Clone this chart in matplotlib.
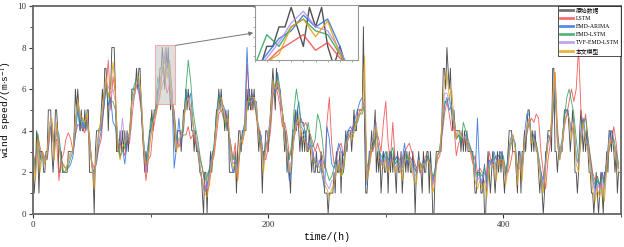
import numpy as np
import matplotlib
matplotlib.use('Agg')
import matplotlib.pyplot as plt
from matplotlib.patches import Rectangle
from matplotlib.ticker import MultipleLocator

plt.rcParams['font.family'] = ['Liberation Serif', 'Noto Sans CJK SC']
plt.rcParams['mathtext.fontset'] = 'stix'

# original hourly wind speed (m/s), t = 0..499
original = [
    2, 1, 2, 4, 3, 1, 3, 3, 3, 2,  2, 3, 3, 5, 5, 5, 3, 2, 3, 5,
    5, 4, 2, 2, 3, 2, 2, 2, 2, 2,  3, 3, 3, 3, 3, 4, 6, 5, 6, 5,
    4, 5, 4, 4, 5, 4, 5, 5, 2, 2,  2, 2, 0, 3, 4, 4, 4, 4, 5, 6,
    5, 7, 7, 6, 4, 6, 6, 8, 8, 8,  6, 3, 3, 3, 4, 3, 4, 3, 4, 3,
    4, 3, 4, 4, 6, 6, 6, 6, 7, 6,  7, 7, 5, 4, 3, 2, 3, 2, 3, 4,
    4, 5, 4, 5, 5, 5, 6, 6, 7, 7,  8, 7, 6, 8, 7, 8, 6, 5, 6, 5,
    4, 3, 3, 4, 4, 4, 3, 4, 5, 5,  6, 5, 6, 5, 5, 4, 4, 3, 4, 3,
    3, 3, 2, 2, 1, 0, 2, 2, 0, 2,  2, 3, 2, 3, 3, 4, 5, 5, 6, 5,
    6, 5, 5, 4, 5, 4, 5, 2, 2, 2,  2, 2, 3, 1, 3, 4, 4, 3, 4, 4,
    4, 4, 6, 5, 6, 5, 6, 5, 6, 5,  5, 4, 3, 4, 3, 1, 3, 3, 4, 4,
    3, 4, 5, 6, 7, 6, 5, 7, 6, 6,  6, 5, 5, 4, 3, 4, 2, 3, 2, 1,
    3, 4, 4, 5, 4, 5, 4, 3, 4, 3,  4, 3, 4, 3, 3, 4, 3, 2, 3, 2,
    2, 3, 2, 2, 2, 3, 2, 2, 1, 1,  1, 0, 1, 1, 1, 1, 2, 1, 3, 2,
    2, 3, 1, 3, 2, 3, 4, 3, 4, 4,  4, 3, 4, 5, 4, 4, 5, 5, 5, 5,
    5, 9, 4, 1, 1, 2, 3, 3, 4, 3,  4, 5, 2, 3, 2, 3, 1, 2, 3, 2,
    2, 3, 1, 3, 2, 3, 2, 3, 2, 1,  3, 2, 2, 3, 1, 2, 3, 2, 3, 2,
    3, 2, 2, 3, 2, 0, 2, 2, 3, 2,  2, 1, 3, 2, 2, 3, 3, 1, 3, 2,
    0, 0, 2, 3, 3, 3, 3, 3, 5, 7,  7, 6, 8, 7, 6, 7, 5, 4, 5, 4,
    4, 4, 4, 4, 3, 4, 3, 4, 3, 4,  3, 3, 3, 3, 3, 2, 1, 1, 2, 2,
    2, 1, 1, 2, 0, 0, 2, 3, 2, 1,  2, 3, 2, 1, 2, 3, 2, 3, 2, 3,
    2, 1, 2, 2, 3, 4, 4, 4, 3, 3,  3, 2, 1, 3, 3, 1, 3, 3, 4, 3,
    4, 5, 5, 4, 3, 4, 3, 4, 3, 3,  2, 1, 2, 1, 0, 1, 3, 3, 4, 4,
    4, 3, 7, 7, 3, 3, 2, 3, 3, 3,  3, 4, 5, 5, 5, 5, 4, 3, 4, 5,
    4, 2, 2, 1, 2, 4, 5, 4, 3, 4,  3, 4, 3, 2, 2, 1, 1, 0, 1, 2,
    1, 0, 1, 2, 1, 0, 2, 2, 3, 2,  4, 4, 3, 4, 3, 2, 3, 1, 2, 2,
]

# model predictions read every 2 h, t = 0, 2, ..., 498
lstm = [
    2.9, 2.4, 3.8, 3.2, 2.7,  2.8, 2.6, 3.6, 4.4, 3.4,  3.6, 1.6, 2.6, 2.9, 3.6,
    3.9, 3.6, 3.0, 3.8, 4.3,  4.2, 4.1, 3.9, 4.6, 3.2,  2.5, 2.2, 2.5, 3.2, 3.6,
    5.0, 6.0, 7.4, 5.0, 6.6,  5.8, 3.0, 3.4, 3.2, 2.8,  3.4, 3.4, 4.6, 5.6, 6.2,
    5.8, 5.0, 3.2, 1.6, 2.6,  2.8, 4.0, 4.6, 5.2, 5.8,  6.2, 6.6, 5.8, 6.2, 5.4,
    5.0, 3.6, 3.2, 3.6, 3.8,  3.8, 4.2, 3.6, 3.8, 3.4,  3.2, 2.6, 2.2, 1.4, 1.0,
    1.4, 2.4, 2.8, 3.8, 4.8,  5.0, 4.6, 4.8, 4.0, 3.4,  2.6, 3.4, 1.6, 3.0, 3.4,
    4.0, 7.2, 5.6, 5.0, 5.6,  4.6, 4.2, 3.6, 2.8, 2.6,  3.2, 4.0, 5.6, 6.2, 5.8,
    5.2, 4.2, 4.4, 3.8, 2.8,  3.0, 3.6, 4.4, 4.2, 4.6,  4.2, 4.4, 4.0, 3.8, 3.4,
    3.0, 3.4, 3.0, 2.8, 2.2,  4.4, 5.6, 3.4, 2.4, 2.6,  3.2, 3.4, 2.8, 3.0, 3.6,
    3.8, 4.2, 4.4, 4.6, 5.0,  5.0, 5.2, 2.0, 2.2, 3.0,  3.2, 4.0, 3.6, 3.0, 4.4,
    5.4, 3.4, 2.6, 4.4, 2.6,  2.8, 2.6, 2.4, 3.0, 3.2,  3.4, 3.0, 2.6, 2.2, 2.4,
    2.0, 2.4, 2.8, 2.6, 2.4,  1.4, 2.0, 2.6, 2.8, 3.8,  4.8, 5.4, 4.8, 4.0, 4.2,
    2.8, 3.4, 3.6, 3.4, 3.6,  3.4, 3.0, 2.4, 2.8, 2.0,  2.2, 2.0, 2.0, 1.8, 3.0,
    2.4, 2.6, 2.8, 2.4, 2.6,  2.6, 2.2, 2.0, 2.4, 3.0,  3.0, 2.2, 2.2, 2.4, 3.4,
    3.8, 4.4, 4.6, 4.4, 4.8,  4.6, 3.0, 2.0, 1.2, 2.6,  3.4, 4.6, 6.8, 4.2, 2.8,
    3.2, 4.2, 4.8, 5.4, 6.0,  5.4, 6.0, 8.0, 5.0, 4.2,  4.8, 3.6, 2.8, 2.0, 1.6,
    1.8, 1.2, 2.0, 1.6, 2.4,  3.0, 3.6, 4.2, 3.4, 2.2,
]
emd_arima = [
    2.6, 2.2, 3.6, 2.7, 3.0,  2.6, 2.7, 4.2, 4.0, 3.1,  4.1, 3.8, 2.6, 2.3, 2.2,
    2.2, 2.4, 2.8, 3.8, 5.0,  4.0, 4.4, 4.1, 4.5, 3.6,  2.3, 2.0, 2.5, 3.4, 4.0,
    5.0, 6.2, 5.2, 5.6, 4.4,  4.2, 3.4, 2.7, 3.2, 2.4,  3.4, 3.8, 5.4, 5.8, 6.6,
    6.0, 5.2, 3.2, 2.6, 3.4,  4.0, 4.6, 4.8, 5.6, 6.4,  6.8, 7.6, 7.0, 7.4, 6.0,
    2.2, 3.2, 4.6, 3.4, 4.2,  6.0, 5.4, 5.8, 4.4, 3.6,  3.0, 2.0, 1.6, 1.0, 1.4,
    1.8, 2.8, 3.2, 4.8, 5.8,  5.4, 5.2, 4.8, 4.2, 2.6,  2.0, 2.4, 2.2, 3.2, 3.8,
    4.4, 8.0, 5.2, 5.8, 5.4,  5.4, 3.6, 3.8, 2.4, 3.4,  3.4, 4.4, 6.4, 5.8, 6.8,
    6.0, 5.0, 3.8, 2.6, 1.6,  2.2, 4.0, 4.8, 5.4, 4.4,  4.4, 3.6, 3.0, 3.4, 3.0,
    2.4, 2.2, 2.6, 1.8, 1.2,  4.2, 3.6, 2.4, 2.2, 2.8,  3.4, 3.0, 2.8, 3.6, 4.0,
    4.2, 4.0, 4.6, 5.0, 5.4,  5.6, 5.0, 1.4, 2.6, 3.6,  3.4, 3.8, 3.2, 2.4, 3.0,
    2.6, 2.2, 3.0, 2.4, 2.6,  2.8, 2.2, 2.6, 3.4, 2.4,  2.8, 2.6, 2.4, 2.0, 2.8,
    2.2, 2.6, 2.4, 2.8, 2.2,  1.6, 2.2, 2.8, 3.0, 4.0,  5.2, 5.6, 5.0, 5.2, 4.6,
    3.6, 3.8, 3.4, 3.6, 3.8,  3.4, 3.2, 2.8, 1.8, 4.6,  1.8, 1.4, 2.4, 1.2, 2.6,
    2.4, 3.0, 2.6, 2.8, 3.0,  2.6, 1.8, 2.8, 3.6, 3.8,  3.4, 2.0, 3.0, 2.0, 3.8,
    4.8, 4.8, 3.6, 3.8, 3.4,  2.6, 2.0, 1.6, 2.6, 3.8,  3.6, 5.0, 6.0, 3.4, 2.6,
    3.4, 4.8, 5.0, 4.6, 4.0,  4.2, 2.8, 2.4, 4.0, 4.6,  3.8, 3.4, 2.6, 1.6, 1.2,
    1.6, 1.4, 2.0, 1.4, 2.6,  3.8, 4.0, 3.2, 2.8, 2.2,
]
emd_lstm = [
    3.1, 2.0, 3.9, 2.6, 2.8,  2.4, 2.8, 4.0, 4.3, 3.0,  4.0, 3.6, 2.6, 2.0, 2.1,
    2.3, 2.7, 3.0, 4.2, 5.2,  4.4, 4.6, 4.2, 4.4, 3.8,  2.4, 1.8, 2.6, 4.1, 4.2,
    5.2, 6.0, 5.8, 5.4, 5.4,  5.0, 3.6, 2.8, 3.0, 3.2,  3.6, 3.9, 5.6, 6.2, 6.5,
    6.2, 5.4, 3.6, 2.4, 3.0,  4.6, 4.4, 5.0, 6.6, 6.0,  7.0, 7.4, 6.8, 6.6, 5.6,
    4.8, 3.6, 3.6, 3.6, 4.0,  6.0, 7.4, 6.4, 5.0, 4.2,  3.6, 2.8, 2.2, 1.6, 1.8,
    2.2, 2.4, 3.4, 4.6, 5.6,  5.6, 4.6, 4.2, 4.0, 3.4,  2.6, 2.8, 2.2, 3.0, 3.8,
    4.2, 5.0, 5.6, 5.2, 5.4,  4.8, 4.0, 3.4, 2.6, 3.2,  3.8, 4.6, 6.0, 6.2, 6.6,
    5.6, 5.0, 4.0, 3.2, 2.6,  3.4, 5.0, 6.0, 5.2, 4.2,  4.0, 3.8, 4.4, 3.6, 3.2,
    3.6, 4.8, 4.4, 3.6, 2.4,  2.0, 1.6, 1.8, 2.2, 2.6,  2.2, 1.8, 2.0, 3.0, 3.8,
    3.8, 3.8, 4.4, 4.4, 4.8,  4.8, 5.2, 2.2, 2.6, 3.2,  3.4, 4.0, 3.0, 2.8, 2.6,
    3.0, 2.6, 2.8, 3.2, 2.4,  2.6, 2.4, 2.2, 2.8, 2.8,  2.6, 2.4, 2.2, 2.0, 2.4,
    2.4, 2.2, 2.6, 2.8, 2.4,  1.8, 2.0, 2.8, 3.2, 4.2,  5.4, 5.4, 5.6, 4.8, 4.8,
    3.6, 3.8, 3.4, 4.4, 4.0,  3.6, 3.2, 2.8, 2.2, 1.8,  2.0, 1.8, 2.2, 1.6, 2.2,
    2.6, 2.8, 2.2, 2.4, 2.8,  2.8, 2.0, 2.6, 3.2, 3.6,  3.4, 2.2, 2.6, 2.2, 3.2,
    4.0, 4.4, 3.8, 3.4, 3.4,  2.8, 2.0, 1.2, 2.4, 3.4,  3.8, 4.8, 6.2, 3.8, 3.0,
    3.6, 4.6, 5.6, 6.0, 5.4,  4.8, 3.6, 2.6, 3.4, 4.4,  4.6, 3.6, 2.6, 1.8, 1.4,
    1.8, 1.4, 1.8, 1.4, 2.4,  3.2, 3.4, 3.6, 3.0, 2.4,
]
tvf_emd_lstm = [
    2.8, 1.8, 3.4, 2.3, 3.0,  2.5, 2.9, 4.2, 4.4, 2.8,  4.2, 3.3, 2.4, 2.3, 2.2,
    2.5, 2.9, 3.0, 4.4, 5.4,  4.6, 4.5, 4.4, 4.6, 3.6,  2.4, 1.6, 2.8, 3.8, 4.4,
    5.4, 6.4, 6.1, 5.8, 6.0,  5.4, 3.6, 3.4, 4.6, 3.4,  3.8, 3.7, 5.2, 5.6, 6.2,
    6.4, 5.6, 3.4, 2.0, 2.8,  3.8, 4.4, 4.8, 5.4, 6.2,  7.2, 7.8, 7.0, 6.8, 5.8,
    4.6, 3.2, 3.4, 3.8, 4.4,  5.4, 5.6, 5.0, 4.2, 3.8,  3.4, 2.4, 1.4, 1.4, 1.2,
    1.8, 2.6, 3.0, 4.2, 5.2,  5.4, 5.0, 4.6, 4.4, 3.2,  2.4, 2.6, 2.0, 3.4, 3.6,
    4.2, 5.4, 5.4, 5.4, 5.6,  5.0, 3.8, 3.6, 2.4, 3.0,  3.8, 4.8, 6.2, 6.0, 6.2,
    5.6, 4.8, 3.6, 3.0, 2.2,  2.6, 3.6, 4.2, 4.6, 4.0,  3.8, 3.6, 3.2, 3.4, 2.8,
    2.6, 2.6, 2.4, 2.6, 1.6,  1.4, 1.2, 1.6, 1.6, 2.2,  2.6, 2.2, 2.4, 3.2, 3.6,
    4.0, 3.8, 4.2, 4.6, 4.8,  5.0, 5.4, 2.0, 2.4, 3.4,  3.8, 4.4, 2.8, 2.6, 2.4,
    2.8, 2.2, 2.6, 2.6, 2.2,  2.4, 2.6, 2.0, 2.6, 2.6,  2.6, 2.4, 2.0, 1.8, 2.6,
    2.4, 2.4, 2.4, 2.6, 2.4,  1.4, 1.8, 2.8, 3.0, 4.4,  5.8, 5.8, 5.4, 5.2, 4.4,
    3.8, 4.0, 3.8, 3.6, 3.8,  3.4, 3.0, 2.6, 2.0, 1.6,  1.8, 1.6, 2.0, 1.2, 2.4,
    2.4, 2.6, 2.0, 2.6, 2.6,  2.6, 1.6, 2.4, 3.4, 3.8,  3.2, 1.8, 2.8, 2.0, 3.4,
    4.0, 4.6, 3.6, 3.6, 3.2,  2.6, 1.8, 1.4, 2.4, 3.4,  3.6, 5.2, 6.4, 3.6, 2.8,
    3.4, 4.4, 4.8, 4.6, 3.8,  4.4, 2.6, 2.4, 3.6, 4.2,  3.6, 3.4, 2.4, 1.6, 1.0,
    1.4, 1.2, 1.6, 1.2, 2.4,  3.4, 3.6, 3.4, 2.8, 2.2,
]
proposed = [
    3.0, 1.6, 3.6, 2.0, 3.0,  2.4, 3.0, 4.4, 4.6, 2.6,  4.4, 3.4, 2.2, 2.4, 2.1,
    2.6, 3.0, 3.0, 4.6, 5.5,  4.8, 4.6, 4.4, 4.8, 3.4,  2.2, 1.2, 3.2, 4.0, 4.6,
    5.6, 6.6, 5.6, 6.0, 7.3,  6.0, 3.2, 2.6, 3.2, 3.4,  3.6, 3.8, 5.4, 5.8, 6.4,
    6.6, 5.8, 3.2, 2.4, 2.6,  3.6, 4.4, 4.8, 5.2, 5.6,  7.0, 7.4, 6.5, 7.3, 5.6,
    4.4, 3.0, 3.6, 3.8, 4.4,  5.2, 5.6, 5.2, 4.4, 3.6,  3.2, 2.2, 1.6, 1.0, 0.8,
    1.6, 2.4, 3.0, 4.4, 5.4,  5.6, 5.0, 4.4, 4.6, 3.0,  2.2, 2.4, 1.6, 3.6, 3.4,
    4.0, 5.2, 5.6, 5.6, 5.6,  5.2, 3.6, 3.4, 2.0, 3.2,  3.6, 4.6, 6.4, 6.0, 6.4,
    5.8, 5.0, 3.4, 2.8, 2.0,  2.4, 3.8, 4.4, 4.6, 3.8,  3.6, 3.4, 3.0, 3.2, 2.6,
    2.4, 2.4, 2.2, 2.4, 1.4,  1.2, 0.8, 1.2, 1.4, 2.0,  2.4, 1.8, 2.2, 3.4, 3.6,
    3.8, 3.6, 4.2, 4.6, 4.8,  5.0, 7.6, 1.6, 2.2, 3.4,  3.6, 4.2, 2.6, 2.4, 2.2,
    2.6, 2.0, 2.4, 2.6, 2.0,  2.2, 2.4, 1.6, 2.6, 2.6,  2.8, 2.2, 1.6, 1.4, 2.6,
    2.2, 2.4, 2.4, 2.6, 2.2,  1.0, 1.6, 2.8, 3.0, 4.6,  6.4, 6.8, 5.6, 6.0, 4.6,
    3.6, 4.0, 3.8, 3.6, 3.6,  3.2, 3.0, 2.6, 1.6, 1.2,  1.6, 1.2, 1.6, 0.8, 2.2,
    2.2, 2.4, 1.6, 2.6, 2.4,  2.6, 1.4, 2.2, 3.4, 3.8,  3.2, 1.4, 2.8, 1.6, 3.6,
    4.2, 4.6, 3.4, 3.6, 3.2,  2.4, 1.6, 1.0, 2.2, 3.6,  3.8, 5.6, 6.8, 3.4, 2.6,
    3.2, 4.4, 4.8, 4.6, 3.6,  4.4, 2.4, 2.0, 3.6, 4.4,  3.4, 3.2, 2.2, 1.2, 0.6,
    1.2, 0.8, 1.4, 0.6, 2.2,  3.6, 3.4, 3.4, 2.6, 2.0,
]

labels = ['原始数据', 'LSTM', 'EMD-ARIMA', 'EMD-LSTM', 'TVF-EMD-LSTM', '本文模型']
colors = ['#505050', '#f24a4a', '#2a6fe0', '#2ea05a', '#b48cf0', '#e0a010']

zoom_x = (104, 121)
zoom_y = (5.3, 8.1)

t_obs = np.arange(len(original))
t_pred = np.arange(0, 500, 2)
preds = [lstm, emd_arima, emd_lstm, tvf_emd_lstm, proposed]


def draw(ax, lw):
    ax.plot(t_obs, original, color=colors[0], lw=lw, label=labels[0])
    for y, c, lab in zip(preds, colors[1:], labels[1:]):
        ax.plot(t_pred, y, color=c, lw=lw, label=lab, alpha=0.85)


fig = plt.figure(figsize=(6.24, 2.47), dpi=100)
ax = fig.add_axes([0.053, 0.134, 0.942, 0.842])
draw(ax, 0.65)

ax.set_xlim(0, 500)
ax.set_ylim(0, 10)
ax.xaxis.set_major_locator(MultipleLocator(200))
ax.xaxis.set_minor_locator(MultipleLocator(100))
ax.yaxis.set_major_locator(MultipleLocator(2))
ax.yaxis.set_minor_locator(MultipleLocator(1))
ax.tick_params(which='major', labelsize=6.5, length=3, width=0.8, colors='#333333', pad=2)
ax.tick_params(which='minor', length=2, width=0.6, colors='#333333')
for s in ax.spines.values():
    s.set_color('#666666')
    s.set_linewidth(1.3)
mono = ['Liberation Mono', 'Noto Sans CJK SC']
ax.set_xlabel('time/(h)', fontsize=7, family=mono, labelpad=2)
ax.set_ylabel(r'wind speed/(m$\cdot$s$^{-1}$)', fontsize=6.8, family=mono)
ax.yaxis.set_label_coords(-0.032, 0.5)

leg = ax.legend(loc='upper right', fontsize=4.2, frameon=True, fancybox=False,
                edgecolor='black', borderpad=0.3, labelspacing=0.5,
                handlelength=2.2, handletextpad=0.5, borderaxespad=0.0)
leg.get_frame().set_linewidth(0.6)
for ln in leg.get_lines():
    ln.set_linewidth(2.0)
    ln.set_alpha(0.8)

ax.add_patch(Rectangle((zoom_x[0], zoom_y[0]), zoom_x[1] - zoom_x[0], zoom_y[1] - zoom_y[0],
                       facecolor='#c8c8c8', edgecolor='#f08080', lw=0.8, alpha=0.6, zorder=5))

ins = fig.add_axes([0.408, 0.757, 0.166, 0.221])
draw(ins, 1.0)
ins.set_xlim(*zoom_x)
ins.set_ylim(*zoom_y)
ins.set_xticklabels([])
ins.set_yticklabels([])
ins.xaxis.set_major_locator(MultipleLocator(2))
ins.yaxis.set_major_locator(MultipleLocator(0.5))
ins.tick_params(length=1.5, width=0.5, colors='#888888')
for s in ins.spines.values():
    s.set_color('#999999')
    s.set_linewidth(0.8)

ax.annotate('', xy=(0, 0.5), xycoords=ins.transAxes,
            xytext=(zoom_x[1], zoom_y[1]), textcoords='data',
            arrowprops=dict(arrowstyle='-|>', color='#777777', lw=0.7,
                            mutation_scale=6, shrinkA=0, shrinkB=1))

fig.savefig('out.png', dpi=100)
